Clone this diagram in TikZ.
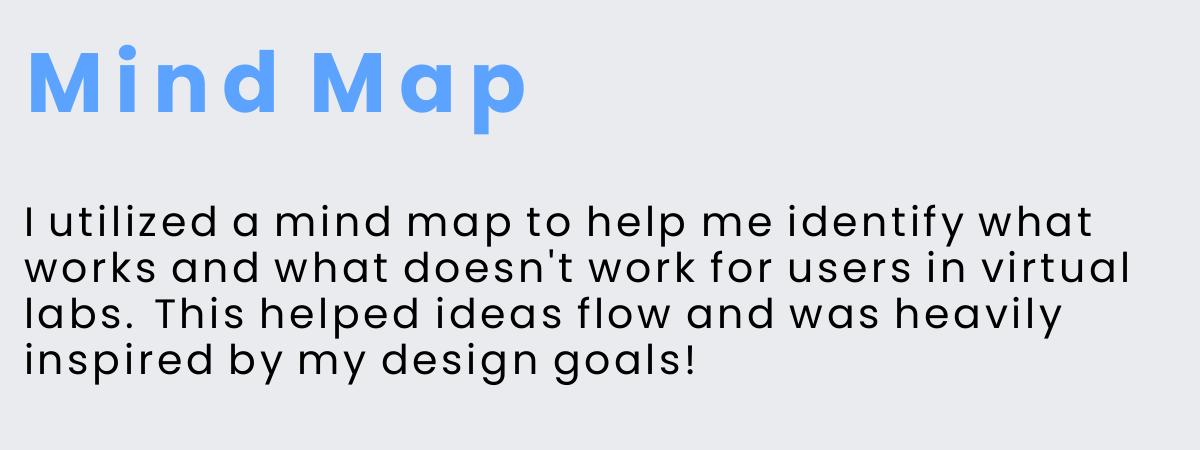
\documentclass[tikz,border=0pt]{standalone}
\usepackage{fontspec}
\setmainfont{Poppins}
\newfontfamily\titlefont[LetterSpace=15]{Poppins}
\newfontfamily\bodyfont[LetterSpace=9]{Poppins}
\definecolor{bgc}{HTML}{EAEBEF}
\definecolor{titleblue}{HTML}{5CA3FF}
\begin{document}
\begin{tikzpicture}[x=1pt,y=1pt]
\tikzset{bodyline/.style={anchor=base west,inner sep=0pt,font=\bodyfont\fontsize{41}{46}\selectfont,text=black}}
\fill[bgc] (0,0) rectangle (1200,450);
\useasboundingbox (0,0) rectangle (1200,450);
\node[anchor=base west,inner sep=0pt,text=titleblue,font=\titlefont\bfseries\fontsize{84}{90}\selectfont] (title) at (26,450-113) {Mind Map};
\node[bodyline] (l1) at (24,450-237) {I utilized a mind map to help me identify what};
\node[bodyline] (l2) at (24,450-283) {works and what doesn't work for users in virtual};
\node[bodyline] (l3) at (24,450-329) {labs. This helped ideas flow and was heavily};
\node[bodyline] (l4) at (24,450-375) {inspired by my design goals!};
\end{tikzpicture}
\end{document}
